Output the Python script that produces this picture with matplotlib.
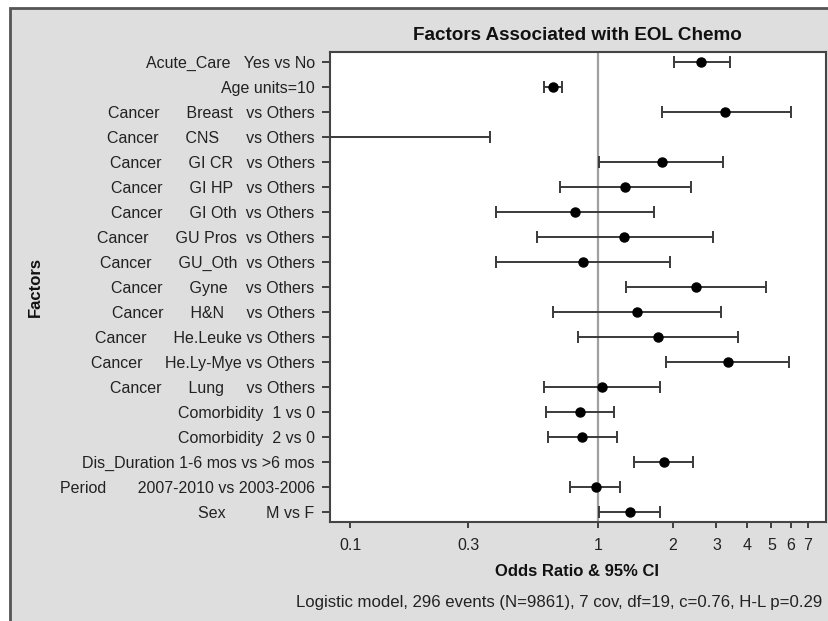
import numpy as np
import matplotlib
matplotlib.use('Agg')
import matplotlib.pyplot as plt
import matplotlib.patches as mpatches

# Factor labels (SAS style, padded with spaces)
labels = [
    'Acute_Care   Yes vs No',
    'Age units=10',
    'Cancer      Breast   vs Others',
    'Cancer      CNS      vs Others',
    'Cancer      GI CR   vs Others',
    'Cancer      GI HP   vs Others',
    'Cancer      GI Oth  vs Others',
    'Cancer      GU Pros  vs Others',
    'Cancer      GU_Oth  vs Others',
    'Cancer      Gyne    vs Others',
    'Cancer      H&N     vs Others',
    'Cancer      He.Leuke vs Others',
    'Cancer     He.Ly-Mye vs Others',
    'Cancer      Lung     vs Others',
    'Comorbidity  1 vs 0',
    'Comorbidity  2 vs 0',
    'Dis_Duration 1-6 mos vs >6 mos',
    'Period       2007-2010 vs 2003-2006',
    'Sex         M vs F',
]

# odds ratios and 95% CI
odds_ratio = [2.59, 0.658, 3.26, 0.05, 1.81, 1.29, 0.807, 1.27, 0.870, 2.48,
              1.44, 1.75, 3.34, 1.04, 0.848, 0.859, 1.84, 0.978, 1.35]
ci_low = [2.02, 0.603, 1.81, 0.005, 1.01, 0.705, 0.389, 0.569, 0.389, 1.30,
          0.656, 0.827, 1.88, 0.603, 0.618, 0.628, 1.40, 0.768, 1.01]
ci_high = [3.39, 0.715, 5.97, 0.367, 3.19, 2.36, 1.68, 2.90, 1.95, 4.75,
           3.12, 3.68, 5.90, 1.78, 1.16, 1.19, 2.42, 1.23, 1.78]

xticks = [0.1, 0.3, 1, 2, 3, 4, 5, 6, 7]
xtick_labels = ['0.1', '0.3', '1', '2', '3', '4', '5', '6', '7']

plt.rcParams['font.family'] = ['Liberation Sans', 'DejaVu Sans']

W, H = 829, 621
fig = plt.figure(figsize=(W / 100, H / 100), dpi=100)
fig.patch.set_facecolor('white')

# gray panel behind everything
panel = mpatches.Rectangle((10 / W, -0.02), 1.05, 1 - 8 / H + 0.02,
                           transform=fig.transFigure, facecolor='#dedede',
                           edgecolor='#555555', linewidth=2, zorder=-5)
fig.patches.append(panel)

ax = fig.add_axes([330 / W, 1 - 522 / H, (826 - 330) / W, (522 - 52) / H])
ax.set_zorder(2)
ax.set_facecolor('white')

y = np.arange(len(labels))
est = np.array(odds_ratio)
err = [est - np.array(ci_low), np.array(ci_high) - est]

ax.axvline(1, color='#a0a0a0', linewidth=1.6, zorder=1)
ax.errorbar(est, y, xerr=err, fmt='o', color='black', markersize=6.5,
            ecolor='#3a3a3a', elinewidth=1.4, capsize=4.5, capthick=1.4,
            zorder=3)

ax.set_xscale('log')
ax.set_xlim(0.083, 8.3)
ax.set_ylim(len(labels) - 0.6, -0.4)
ax.set_xticks(xticks)
ax.set_xticklabels(xtick_labels)
ax.xaxis.set_minor_locator(matplotlib.ticker.NullLocator())
ax.set_yticks(y)
ax.set_yticklabels(labels)

ax.tick_params(axis='both', labelsize=11.5, colors='#333333', labelcolor='#222222',
               width=1.3)
ax.tick_params(axis='y', length=6, pad=5)
ax.tick_params(axis='x', length=4.5, pad=7)
for s in ax.spines.values():
    s.set_color('#444444')
    s.set_linewidth(1.5)

fig.text(577.5 / W, 1 - 35 / H, 'Factors Associated with EOL Chemo',
         ha='center', va='center', fontsize=13.6, fontweight='bold', color='#111111')
fig.text(577.5 / W, 1 - 572 / H, 'Odds Ratio & 95% CI',
         ha='center', va='center', fontsize=12, fontweight='bold', color='#111111')
fig.text(35 / W, 1 - 287 / H, 'Factors', rotation=90,
         ha='center', va='center', fontsize=12, fontweight='bold', color='#111111')
fig.text(822 / W, 1 - 602 / H,
         'Logistic model, 296 events (N=9861), 7 cov, df=19, c=0.76, H-L p=0.29',
         ha='right', va='center', fontsize=12.1, color='#222222')

fig.savefig('out.png', dpi=100, facecolor=fig.get_facecolor())
